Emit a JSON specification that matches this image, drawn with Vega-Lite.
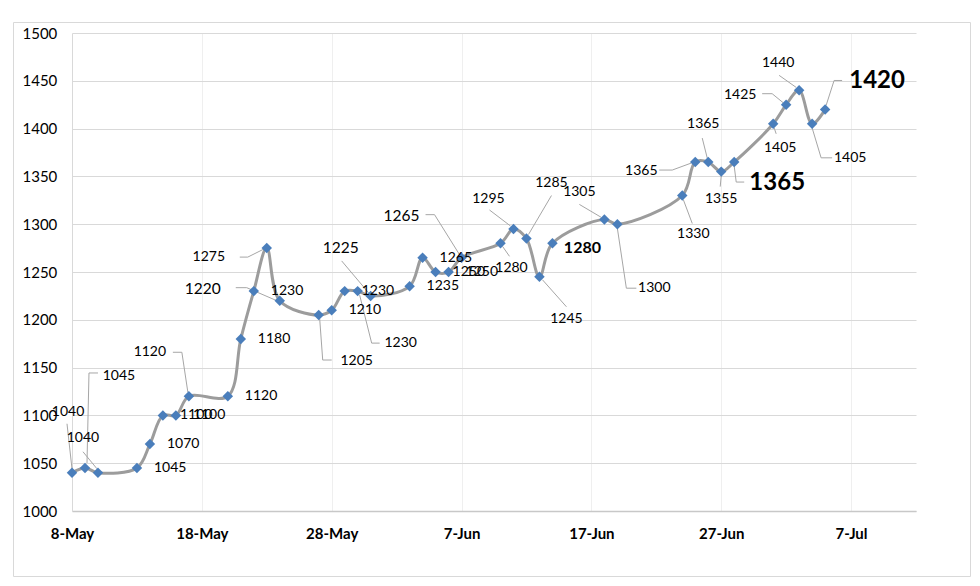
{
  "$schema": "https://vega.github.io/schema/vega-lite/v6.json",
  "width": 957,
  "height": 554,
  "autosize": {"type": "none"},
  "padding": {"left": 13, "top": 22, "right": 10, "bottom": 10},
  "background": "white",
  "config": {
    "view": {"stroke": "#d9d9d9", "strokeWidth": 1},
    "font": "Lato",
    "text": {"font": "Lato", "fontSize": 14, "color": "#000000", "align": "center", "baseline": "middle"},
    "rule": {"color": "#a6a6a6", "strokeWidth": 1}
  },
  "data": {
    "values": [
      {"date": "2024-05-08", "price": 1040},
      {"date": "2024-05-09", "price": 1045},
      {"date": "2024-05-10", "price": 1040},
      {"date": "2024-05-13", "price": 1045},
      {"date": "2024-05-14", "price": 1070},
      {"date": "2024-05-15", "price": 1100},
      {"date": "2024-05-16", "price": 1100},
      {"date": "2024-05-17", "price": 1120},
      {"date": "2024-05-20", "price": 1120},
      {"date": "2024-05-21", "price": 1180},
      {"date": "2024-05-22", "price": 1230},
      {"date": "2024-05-23", "price": 1275},
      {"date": "2024-05-24", "price": 1220},
      {"date": "2024-05-27", "price": 1205},
      {"date": "2024-05-28", "price": 1210},
      {"date": "2024-05-29", "price": 1230},
      {"date": "2024-05-30", "price": 1230},
      {"date": "2024-05-31", "price": 1225},
      {"date": "2024-06-03", "price": 1235},
      {"date": "2024-06-04", "price": 1265},
      {"date": "2024-06-05", "price": 1250},
      {"date": "2024-06-06", "price": 1250},
      {"date": "2024-06-07", "price": 1265},
      {"date": "2024-06-10", "price": 1280},
      {"date": "2024-06-11", "price": 1295},
      {"date": "2024-06-12", "price": 1285},
      {"date": "2024-06-13", "price": 1245},
      {"date": "2024-06-14", "price": 1280},
      {"date": "2024-06-18", "price": 1305},
      {"date": "2024-06-19", "price": 1300},
      {"date": "2024-06-24", "price": 1330},
      {"date": "2024-06-25", "price": 1365},
      {"date": "2024-06-26", "price": 1365},
      {"date": "2024-06-27", "price": 1355},
      {"date": "2024-06-28", "price": 1365},
      {"date": "2024-07-01", "price": 1405},
      {"date": "2024-07-02", "price": 1425},
      {"date": "2024-07-03", "price": 1440},
      {"date": "2024-07-04", "price": 1405},
      {"date": "2024-07-05", "price": 1420}
    ],
    "format": {"parse": {"date": "date"}}
  },
  "resolve": {"axis": {"x": "independent"}},
  "encoding": {
    "x": {
      "field": "date", "type": "temporal",
      "scale": {"type": "utc", "domain": [{"year": 2024, "month": "may", "date": 8, "utc": true}, {"year": 2024, "month": "jul", "date": 12, "utc": true}], "range": [59, 903]},
      "axis": null
    },
    "y": {
      "field": "price", "type": "quantitative",
      "scale": {"domain": [1000, 1500], "range": [489, 11], "nice": false, "zero": false},
      "axis": {
        "title": null, "orient": "left", "offset": -59,
        "values": [1000, 1050, 1100, 1150, 1200, 1250, 1300, 1350, 1400, 1450, 1500],
        "format": "d",
        "labelFont": "Lato", "labelFontSize": 15, "labelColor": "#000000",
        "labelAlign": "left", "labelPadding": 50, "labelFlush": false, "labelOverlap": false,
        "ticks": false, "tickSize": 0,
        "grid": true, "gridColor": "#d9d9d9", "gridWidth": 1,
        "domain": true, "domainColor": "#d9d9d9"
      }
    }
  },
  "layer": [
    {
      "mark": {"type": "line", "interpolate": "catmull-rom", "color": "#9c9c9c", "strokeWidth": 3},
      "encoding": {
        "x": {
          "field": "date", "type": "temporal",
          "axis": {
            "title": null, "orient": "bottom", "offset": -65,
            "values": [
              {"year": 2024, "month": "may", "date": 8, "utc": true},
              {"year": 2024, "month": "may", "date": 18, "utc": true},
              {"year": 2024, "month": "may", "date": 28, "utc": true},
              {"year": 2024, "month": "jun", "date": 7, "utc": true},
              {"year": 2024, "month": "jun", "date": 17, "utc": true},
              {"year": 2024, "month": "jun", "date": 27, "utc": true},
              {"year": 2024, "month": "jul", "date": 7, "utc": true}
            ],
            "labelExpr": "utcFormat(datum.value, '%-d-%b')",
            "labelFont": "Lato", "labelFontSize": 15, "labelFontWeight": "bold", "labelColor": "#000000",
            "labelPadding": 22, "labelBaseline": "middle", "labelFlush": false, "labelOverlap": false,
            "ticks": false, "tickSize": 0, "grid": false,
            "domain": true, "domainColor": "#c8c8c8", "domainWidth": 1.5
          }
        }
      }
    },
    {"transform": [{"filter": "utcFormat(datum.date,'%m-%d')=='05-08'"}], "layer": [
      {"mark": {"type": "rule", "xOffset": -5, "yOffset": -49, "x2Offset": 0, "y2Offset": -4}, "encoding": {"x2": {"field": "date"}, "y2": {"field": "price"}}},
      {"mark": {"type": "text", "dx": -4, "dy": -61}, "encoding": {"text": {"field": "price", "type": "quantitative", "format": "d"}}}
    ]},
    {"transform": [{"filter": "utcFormat(datum.date,'%m-%d')=='05-09'"}], "layer": [
      {"mark": {"type": "rule", "xOffset": 13, "yOffset": -95, "x2Offset": 4, "y2Offset": -95}, "encoding": {"x2": {"field": "date"}, "y2": {"field": "price"}}},
      {"mark": {"type": "rule", "xOffset": 4, "yOffset": -95, "x2Offset": 2, "y2Offset": -5}, "encoding": {"x2": {"field": "date"}, "y2": {"field": "price"}}},
      {"mark": {"type": "text", "dx": 34, "dy": -92}, "encoding": {"text": {"field": "price", "type": "quantitative", "format": "d"}}}
    ]},
    {"transform": [{"filter": "utcFormat(datum.date,'%m-%d')=='05-10'"}], "layer": [
      {"mark": {"type": "rule", "xOffset": -15, "yOffset": -21, "x2Offset": -1, "y2Offset": -4}, "encoding": {"x2": {"field": "date"}, "y2": {"field": "price"}}},
      {"mark": {"type": "text", "dx": -15, "dy": -35}, "encoding": {"text": {"field": "price", "type": "quantitative", "format": "d"}}}
    ]},
    {"transform": [{"filter": "utcFormat(datum.date,'%m-%d')=='05-17'"}], "layer": [
      {"mark": {"type": "rule", "xOffset": -16, "yOffset": -44, "x2Offset": -7, "y2Offset": -44}, "encoding": {"x2": {"field": "date"}, "y2": {"field": "price"}}},
      {"mark": {"type": "rule", "xOffset": -7, "yOffset": -44, "x2Offset": -1, "y2Offset": -4}, "encoding": {"x2": {"field": "date"}, "y2": {"field": "price"}}},
      {"mark": {"type": "text", "dx": -39, "dy": -44}, "encoding": {"text": {"field": "price", "type": "quantitative", "format": "d"}}}
    ]},
    {"transform": [{"filter": "utcFormat(datum.date,'%m-%d')=='05-23'"}], "layer": [
      {"mark": {"type": "rule", "xOffset": -27, "yOffset": 9, "x2Offset": -19, "y2Offset": 9}, "encoding": {"x2": {"field": "date"}, "y2": {"field": "price"}}},
      {"mark": {"type": "rule", "xOffset": -19, "yOffset": 9, "x2Offset": -3, "y2Offset": 1}, "encoding": {"x2": {"field": "date"}, "y2": {"field": "price"}}},
      {"mark": {"type": "text", "dx": -58, "dy": 9}, "encoding": {"text": {"field": "price", "type": "quantitative", "format": "d"}}}
    ]},
    {"transform": [{"filter": "utcFormat(datum.date,'%m-%d')=='05-24'"}], "layer": [
      {"mark": {"type": "rule", "xOffset": -44, "yOffset": -13, "x2Offset": -33, "y2Offset": -13}, "encoding": {"x2": {"field": "date"}, "y2": {"field": "price"}}},
      {"mark": {"type": "rule", "xOffset": -33, "yOffset": -13, "x2Offset": -3, "y2Offset": 0}, "encoding": {"x2": {"field": "date"}, "y2": {"field": "price"}}},
      {"mark": {"type": "text", "dx": -77, "dy": -12, "fontSize": 15.5}, "encoding": {"text": {"field": "price", "type": "quantitative", "format": "d"}}}
    ]},
    {"transform": [{"filter": "utcFormat(datum.date,'%m-%d')=='05-27'"}], "layer": [
      {"mark": {"type": "rule", "xOffset": 1, "yOffset": 4, "x2Offset": 4, "y2Offset": 45}, "encoding": {"x2": {"field": "date"}, "y2": {"field": "price"}}},
      {"mark": {"type": "rule", "xOffset": 4, "yOffset": 45, "x2Offset": 13, "y2Offset": 45}, "encoding": {"x2": {"field": "date"}, "y2": {"field": "price"}}},
      {"mark": {"type": "text", "dx": 38, "dy": 46}, "encoding": {"text": {"field": "price", "type": "quantitative", "format": "d"}}}
    ]},
    {"transform": [{"filter": "utcFormat(datum.date,'%m-%d')=='05-30'"}], "layer": [
      {"mark": {"type": "rule", "xOffset": 22, "yOffset": 52, "x2Offset": 14, "y2Offset": 52}, "encoding": {"x2": {"field": "date"}, "y2": {"field": "price"}}},
      {"mark": {"type": "rule", "xOffset": 14, "yOffset": 52, "x2Offset": 2, "y2Offset": 4}, "encoding": {"x2": {"field": "date"}, "y2": {"field": "price"}}},
      {"mark": {"type": "text", "dx": 43, "dy": 52}, "encoding": {"text": {"field": "price", "type": "quantitative", "format": "d"}}}
    ]},
    {"transform": [{"filter": "utcFormat(datum.date,'%m-%d')=='05-31'"}], "layer": [
      {"mark": {"type": "rule", "xOffset": -29, "yOffset": -35, "x2Offset": -2, "y2Offset": -3}, "encoding": {"x2": {"field": "date"}, "y2": {"field": "price"}}},
      {"mark": {"type": "text", "dx": -30, "dy": -48, "fontSize": 15.5}, "encoding": {"text": {"field": "price", "type": "quantitative", "format": "d"}}}
    ]},
    {"transform": [{"filter": "utcFormat(datum.date,'%m-%d')=='06-07'"}], "layer": [
      {"mark": {"type": "rule", "xOffset": -36, "yOffset": -43, "x2Offset": -27, "y2Offset": -43}, "encoding": {"x2": {"field": "date"}, "y2": {"field": "price"}}},
      {"mark": {"type": "rule", "xOffset": -27, "yOffset": -43, "x2Offset": -2, "y2Offset": -3}, "encoding": {"x2": {"field": "date"}, "y2": {"field": "price"}}},
      {"mark": {"type": "text", "dx": -60, "dy": -42, "fontSize": 15.5}, "encoding": {"text": {"field": "price", "type": "quantitative", "format": "d"}}}
    ]},
    {"transform": [{"filter": "utcFormat(datum.date,'%m-%d')=='06-10'"}], "layer": [
      {"mark": {"type": "rule", "xOffset": 2, "yOffset": 3, "x2Offset": 9, "y2Offset": 13}, "encoding": {"x2": {"field": "date"}, "y2": {"field": "price"}}},
      {"mark": {"type": "text", "dx": 11, "dy": 25}, "encoding": {"text": {"field": "price", "type": "quantitative", "format": "d"}}}
    ]},
    {"transform": [{"filter": "utcFormat(datum.date,'%m-%d')=='06-11'"}], "layer": [
      {"mark": {"type": "rule", "xOffset": -24, "yOffset": -19, "x2Offset": -3, "y2Offset": -3}, "encoding": {"x2": {"field": "date"}, "y2": {"field": "price"}}},
      {"mark": {"type": "text", "dx": -25, "dy": -30}, "encoding": {"text": {"field": "price", "type": "quantitative", "format": "d"}}}
    ]},
    {"transform": [{"filter": "utcFormat(datum.date,'%m-%d')=='06-12'"}], "layer": [
      {"mark": {"type": "rule", "xOffset": 25, "yOffset": -43, "x2Offset": 2, "y2Offset": -4}, "encoding": {"x2": {"field": "date"}, "y2": {"field": "price"}}},
      {"mark": {"type": "text", "dx": 25, "dy": -56}, "encoding": {"text": {"field": "price", "type": "quantitative", "format": "d"}}}
    ]},
    {"transform": [{"filter": "utcFormat(datum.date,'%m-%d')=='06-13'"}], "layer": [
      {"mark": {"type": "rule", "xOffset": 27, "yOffset": 30, "x2Offset": 3, "y2Offset": 3}, "encoding": {"x2": {"field": "date"}, "y2": {"field": "price"}}},
      {"mark": {"type": "text", "dx": 27, "dy": 42}, "encoding": {"text": {"field": "price", "type": "quantitative", "format": "d"}}}
    ]},
    {"transform": [{"filter": "utcFormat(datum.date,'%m-%d')=='06-14'"}], "layer": [
      {"mark": {"type": "text", "dx": 30, "dy": 5, "fontSize": 16, "fontWeight": "bold"}, "encoding": {"text": {"field": "price", "type": "quantitative", "format": "d"}}}
    ]},
    {"transform": [{"filter": "utcFormat(datum.date,'%m-%d')=='06-18'"}], "layer": [
      {"mark": {"type": "rule", "xOffset": -25, "yOffset": -15, "x2Offset": -3, "y2Offset": -2}, "encoding": {"x2": {"field": "date"}, "y2": {"field": "price"}}},
      {"mark": {"type": "text", "dx": -25, "dy": -27}, "encoding": {"text": {"field": "price", "type": "quantitative", "format": "d"}}}
    ]},
    {"transform": [{"filter": "utcFormat(datum.date,'%m-%d')=='06-19'"}], "layer": [
      {"mark": {"type": "rule", "xOffset": 19, "yOffset": 64, "x2Offset": 9, "y2Offset": 64}, "encoding": {"x2": {"field": "date"}, "y2": {"field": "price"}}},
      {"mark": {"type": "rule", "xOffset": 9, "yOffset": 64, "x2Offset": 0, "y2Offset": 4}, "encoding": {"x2": {"field": "date"}, "y2": {"field": "price"}}},
      {"mark": {"type": "text", "dx": 37, "dy": 64}, "encoding": {"text": {"field": "price", "type": "quantitative", "format": "d"}}}
    ]},
    {"transform": [{"filter": "utcFormat(datum.date,'%m-%d')=='06-24'"}], "layer": [
      {"mark": {"type": "rule", "xOffset": 10, "yOffset": 28, "x2Offset": 1, "y2Offset": 4}, "encoding": {"x2": {"field": "date"}, "y2": {"field": "price"}}},
      {"mark": {"type": "text", "dx": 11, "dy": 38}, "encoding": {"text": {"field": "price", "type": "quantitative", "format": "d"}}}
    ]},
    {"transform": [{"filter": "utcFormat(datum.date,'%m-%d')=='06-25'"}], "layer": [
      {"mark": {"type": "rule", "xOffset": -36, "yOffset": 8, "x2Offset": -23, "y2Offset": 8}, "encoding": {"x2": {"field": "date"}, "y2": {"field": "price"}}},
      {"mark": {"type": "rule", "xOffset": -23, "yOffset": 8, "x2Offset": -4, "y2Offset": 1}, "encoding": {"x2": {"field": "date"}, "y2": {"field": "price"}}},
      {"mark": {"type": "text", "dx": -54, "dy": 9}, "encoding": {"text": {"field": "price", "type": "quantitative", "format": "d"}}}
    ]},
    {"transform": [{"filter": "utcFormat(datum.date,'%m-%d')=='06-26'"}], "layer": [
      {"mark": {"type": "rule", "xOffset": -6, "yOffset": -24, "x2Offset": -1, "y2Offset": -4}, "encoding": {"x2": {"field": "date"}, "y2": {"field": "price"}}},
      {"mark": {"type": "text", "dx": -5, "dy": -38}, "encoding": {"text": {"field": "price", "type": "quantitative", "format": "d"}}}
    ]},
    {"transform": [{"filter": "utcFormat(datum.date,'%m-%d')=='06-27'"}], "layer": [
      {"mark": {"type": "rule", "xOffset": -1, "yOffset": 15, "x2Offset": 0, "y2Offset": 4}, "encoding": {"x2": {"field": "date"}, "y2": {"field": "price"}}},
      {"mark": {"type": "text", "dx": 0, "dy": 27}, "encoding": {"text": {"field": "price", "type": "quantitative", "format": "d"}}}
    ]},
    {"transform": [{"filter": "utcFormat(datum.date,'%m-%d')=='06-28'"}], "layer": [
      {"mark": {"type": "rule", "xOffset": 10, "yOffset": 20, "x2Offset": 2, "y2Offset": 20}, "encoding": {"x2": {"field": "date"}, "y2": {"field": "price"}}},
      {"mark": {"type": "rule", "xOffset": 2, "yOffset": 20, "x2Offset": 0, "y2Offset": 4}, "encoding": {"x2": {"field": "date"}, "y2": {"field": "price"}}},
      {"mark": {"type": "text", "dx": 43, "dy": 21, "fontSize": 24, "fontWeight": "bold"}, "encoding": {"text": {"field": "price", "type": "quantitative", "format": "d"}}}
    ]},
    {"transform": [{"filter": "utcFormat(datum.date,'%m-%d')=='07-01'"}], "layer": [
      {"mark": {"type": "rule", "xOffset": 3, "yOffset": 10, "x2Offset": 1, "y2Offset": 4}, "encoding": {"x2": {"field": "date"}, "y2": {"field": "price"}}},
      {"mark": {"type": "text", "dx": 7, "dy": 24}, "encoding": {"text": {"field": "price", "type": "quantitative", "format": "d"}}}
    ]},
    {"transform": [{"filter": "utcFormat(datum.date,'%m-%d')=='07-02'"}], "layer": [
      {"mark": {"type": "rule", "xOffset": -24, "yOffset": -11, "x2Offset": -14, "y2Offset": -11}, "encoding": {"x2": {"field": "date"}, "y2": {"field": "price"}}},
      {"mark": {"type": "rule", "xOffset": -14, "yOffset": -11, "x2Offset": -3, "y2Offset": -2}, "encoding": {"x2": {"field": "date"}, "y2": {"field": "price"}}},
      {"mark": {"type": "text", "dx": -46, "dy": -10}, "encoding": {"text": {"field": "price", "type": "quantitative", "format": "d"}}}
    ]},
    {"transform": [{"filter": "utcFormat(datum.date,'%m-%d')=='07-03'"}], "layer": [
      {"mark": {"type": "rule", "xOffset": -20, "yOffset": -15, "x2Offset": -3, "y2Offset": -3}, "encoding": {"x2": {"field": "date"}, "y2": {"field": "price"}}},
      {"mark": {"type": "text", "dx": -21, "dy": -27}, "encoding": {"text": {"field": "price", "type": "quantitative", "format": "d"}}}
    ]},
    {"transform": [{"filter": "utcFormat(datum.date,'%m-%d')=='07-04'"}], "layer": [
      {"mark": {"type": "rule", "xOffset": 20, "yOffset": 34, "x2Offset": 9, "y2Offset": 34}, "encoding": {"x2": {"field": "date"}, "y2": {"field": "price"}}},
      {"mark": {"type": "rule", "xOffset": 9, "yOffset": 34, "x2Offset": 0, "y2Offset": 4}, "encoding": {"x2": {"field": "date"}, "y2": {"field": "price"}}},
      {"mark": {"type": "text", "dx": 38, "dy": 34}, "encoding": {"text": {"field": "price", "type": "quantitative", "format": "d"}}}
    ]},
    {"transform": [{"filter": "utcFormat(datum.date,'%m-%d')=='07-05'"}], "layer": [
      {"mark": {"type": "rule", "xOffset": 17, "yOffset": -29, "x2Offset": 9, "y2Offset": -29}, "encoding": {"x2": {"field": "date"}, "y2": {"field": "price"}}},
      {"mark": {"type": "rule", "xOffset": 9, "yOffset": -29, "x2Offset": 1, "y2Offset": -4}, "encoding": {"x2": {"field": "date"}, "y2": {"field": "price"}}},
      {"mark": {"type": "text", "dx": 52, "dy": -28, "fontSize": 24, "fontWeight": "bold"}, "encoding": {"text": {"field": "price", "type": "quantitative", "format": "d"}}}
    ]},
    {
      "mark": {"type": "point", "shape": "diamond", "filled": true, "size": 110, "color": "#4a7ebb", "opacity": 1},
      "encoding": {
        "x": {
          "field": "date", "type": "temporal",
          "axis": {
            "title": null, "orient": "top", "offset": 0,
            "values": [
              {"year": 2024, "month": "may", "date": 18, "utc": true},
              {"year": 2024, "month": "may", "date": 28, "utc": true},
              {"year": 2024, "month": "jun", "date": 7, "utc": true},
              {"year": 2024, "month": "jun", "date": 17, "utc": true},
              {"year": 2024, "month": "jun", "date": 27, "utc": true},
              {"year": 2024, "month": "jul", "date": 7, "utc": true}
            ],
            "labels": false, "ticks": false, "domain": false,
            "grid": true, "gridColor": "#efefef", "gridWidth": 1
          }
        }
      }
    },
    {
      "transform": [{"filter": "indexof(['05-13','05-14','05-15','05-16','05-20','05-21','05-22','05-28','05-29','06-03','06-04','06-05','06-06'], utcFormat(datum.date,'%m-%d')) >= 0"}],
      "mark": {"type": "text", "align": "left", "dx": 17},
      "encoding": {"text": {"field": "price", "type": "quantitative", "format": "d"}}
    }
  ]
}
